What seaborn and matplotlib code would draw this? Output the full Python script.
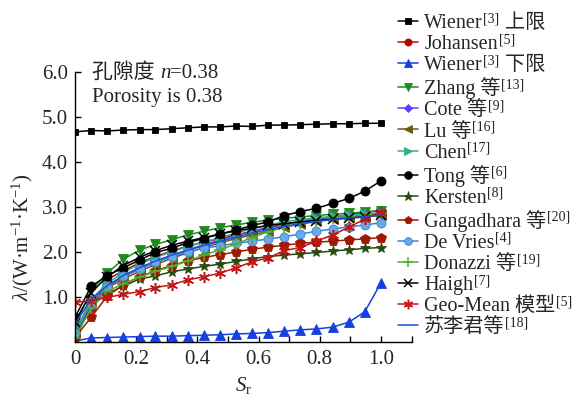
import numpy as np
import pandas as pd
import matplotlib
matplotlib.use('Agg')
import matplotlib.pyplot as plt
import seaborn as sns

# Sr grid shared by all curves
sr = [0.0, 0.053, 0.105, 0.158, 0.211, 0.263, 0.316, 0.368, 0.421, 0.474,
      0.526, 0.579, 0.632, 0.684, 0.737, 0.789, 0.842, 0.895, 0.947, 1.0]

wiener_up = [4.67, 4.70, 4.69, 4.71, 4.72, 4.72, 4.74, 4.76, 4.78, 4.78,
             4.80, 4.79, 4.82, 4.82, 4.83, 4.84, 4.85, 4.85, 4.86, 4.86]
johansen = [0.15, 0.75, 1.39, 1.58, 1.76, 1.90, 2.02, 2.13, 2.22, 2.30,
            2.38, 2.46, 2.54, 2.61, 2.68, 2.73, 2.78, 2.83, 2.88, 2.92]
wiener_low = [0.02, 0.09, 0.10, 0.11, 0.12, 0.13, 0.13, 0.14, 0.15, 0.16,
              0.18, 0.19, 0.21, 0.24, 0.27, 0.29, 0.33, 0.44, 0.67, 1.31]
zhang = [0.35, 1.15, 1.53, 1.84, 2.04, 2.17, 2.27, 2.38, 2.46, 2.54,
         2.60, 2.66, 2.71, 2.75, 2.78, 2.81, 2.84, 2.86, 2.89, 2.92]
cote = [0.15, 0.80, 1.20, 1.45, 1.62, 1.78, 1.92, 2.05, 2.16, 2.27,
        2.37, 2.46, 2.55, 2.62, 2.68, 2.73, 2.77, 2.81, 2.84, 2.87]
lu = [0.25, 0.90, 1.20, 1.40, 1.57, 1.72, 1.86, 1.98, 2.10, 2.20,
      2.30, 2.38, 2.46, 2.55, 2.62, 2.68, 2.73, 2.77, 2.80, 2.83]
chen = [0.20, 0.95, 1.30, 1.55, 1.73, 1.88, 2.00, 2.12, 2.22, 2.32,
        2.42, 2.52, 2.60, 2.67, 2.72, 2.76, 2.79, 2.82, 2.84, 2.86]
tong = [0.55, 1.24, 1.47, 1.65, 1.82, 1.99, 2.08, 2.21, 2.30, 2.40,
        2.49, 2.59, 2.67, 2.81, 2.90, 2.97, 3.08, 3.19, 3.35, 3.58]
kersten = [0.05, 0.85, 1.07, 1.24, 1.40, 1.47, 1.56, 1.62, 1.68, 1.73,
           1.79, 1.85, 1.90, 1.93, 1.96, 1.99, 2.02, 2.05, 2.08, 2.10]
gangadhara = [0.10, 0.55, 1.02, 1.27, 1.45, 1.58, 1.70, 1.80, 1.88, 1.94,
              2.00, 2.06, 2.11, 2.15, 2.19, 2.22, 2.24, 2.27, 2.29, 2.32]
devries = [0.20, 0.85, 1.23, 1.47, 1.62, 1.77, 1.90, 2.01, 2.08, 2.14,
           2.19, 2.24, 2.29, 2.34, 2.40, 2.46, 2.51, 2.56, 2.60, 2.65]
donazzi = [0.10, 0.75, 1.12, 1.30, 1.44, 1.57, 1.68, 1.80, 1.93, 2.05,
           2.18, 2.32, 2.45, 2.55, 2.64, 2.70, 2.75, 2.79, 2.82, 2.85]
haigh = [0.45, 1.10, 1.45, 1.70, 1.88, 2.03, 2.15, 2.24, 2.32, 2.40,
         2.47, 2.53, 2.59, 2.63, 2.67, 2.70, 2.73, 2.75, 2.78, 2.82]
geomean = [0.88, 0.92, 0.99, 1.06, 1.12, 1.21, 1.27, 1.38, 1.45, 1.53,
           1.65, 1.78, 1.87, 2.03, 2.10, 2.24, 2.38, 2.55, 2.73, 2.90]
su = [0.40, 0.95, 1.25, 1.48, 1.65, 1.80, 1.93, 2.04, 2.14, 2.24,
      2.33, 2.42, 2.50, 2.57, 2.63, 2.68, 2.72, 2.76, 2.79, 2.82]

series = [wiener_up, johansen, wiener_low, zhang, cote, lu, chen, tong,
          kersten, gangadhara, devries, donazzi, haigh, geomean, su]

# legend labels split into (text, kind) pieces; 's' = superscript
label_parts = [
    [('Wiener', 't'), ('[3]', 's'), (' 上限', 't')],
    [('Johansen', 't'), ('[5]', 's')],
    [('Wiener', 't'), ('[3]', 's'), (' 下限', 't')],
    [('Zhang 等', 't'), ('[13]', 's')],
    [('Cote 等', 't'), ('[9]', 's')],
    [('Lu 等', 't'), ('[16]', 's')],
    [('Chen', 't'), ('[17]', 's')],
    [('Tong 等', 't'), ('[6]', 's')],
    [('Kersten', 't'), ('[8]', 's')],
    [('Gangadhara 等', 't'), ('[20]', 's')],
    [('De Vries', 't'), ('[4]', 's')],
    [('Donazzi 等', 't'), ('[19]', 's')],
    [('Haigh', 't'), ('[7]', 's')],
    [('Geo-Mean 模型', 't'), ('[5]', 's')],
    [('苏李君等', 't'), ('[18]', 's')],
]

colors = ['black', '#c00000', '#1540e0', '#1f8a1f', '#6040ff', '#6b5a10',
          '#30b090', 'black', '#2b4a12', '#a01800', '#3c82d8', '#4caf30',
          'black', '#c01818', '#1a4fd8']
markers = ['s', 'o', '^', 'v', 'D', '<', '>', 'o', '*', 'p', 'o', '+',
           'x', (6, 2, 0), None]
msizes = [5, 6, 7, 7, 5, 7, 7, 6.5, 8, 7, 6.5, 8, 7, 8, 0]

sns.set_style('ticks')
fam = ['Liberation Serif', 'Noto Sans CJK SC']
plt.rcParams['font.family'] = fam
plt.rcParams['mathtext.fontset'] = 'custom'
plt.rcParams['mathtext.rm'] = 'Liberation Serif'
plt.rcParams['mathtext.it'] = 'Liberation Serif:italic'

fig = plt.figure(figsize=(5.77, 3.99), dpi=100)
ax = fig.add_axes([75 / 577, 1 - 342 / 399, 336.5 / 577, 270 / 399])

for vals, c, m, ms, parts in zip(series, colors, markers, msizes, label_parts):
    kw = dict(color=c, linewidth=1.1)
    if m is not None:
        kw.update(marker=m, markersize=ms, markeredgecolor=c,
                  markeredgewidth=1.1 if m in ('+', 'x', (6, 2, 0)) else 0.6)
    if c == '#3c82d8':
        kw['markerfacecolor'] = '#6aa8ec'
    sns.lineplot(x=sr, y=vals, ax=ax, label=parts[0][0], **kw)

ax.set_xlim(0, 1.1)
ax.set_ylim(0, 6)
ax.set_xticks([0, 0.2, 0.4, 0.6, 0.8, 1.0])
ax.set_xticklabels(['0', '0.2', '0.4', '0.6', '0.8', '1.0'])
ax.set_xticks([0.1, 0.3, 0.5, 0.7, 0.9, 1.1], minor=True)
ax.set_yticks([1, 2, 3, 4, 5, 6])
ax.set_yticklabels(['1.0', '2.0', '3.0', '4.0', '5.0', '6.0'])
ax.tick_params(which='both', direction='in', length=4, width=1, color='black')
ax.tick_params(axis='x', which='major', pad=6, labelsize=15)
ax.tick_params(axis='y', pad=5, labelsize=15)
for s in ['top', 'right']:
    ax.spines[s].set_visible(False)
for s in ['left', 'bottom']:
    ax.spines[s].set_linewidth(1)
    ax.spines[s].set_color('black')

ax.set_xlabel(r'$S_{\mathrm{r}}$', fontsize=15, labelpad=4)
ax.set_ylabel(r'$\lambda$/(W·m$^{-1}$·K$^{-1}$)', fontsize=15)
ax.yaxis.set_label_coords(-0.12, 0.39)

handles = ax.lines[:len(series)]
leg = ax.legend(handles, [p[0][0] for p in label_parts], loc='upper left',
                bbox_to_anchor=(398 / 577, 1 - 14 / 399),
                bbox_transform=fig.transFigure, frameon=False, borderpad=0,
                borderaxespad=0, handlelength=1.0, handletextpad=0.3,
                labelspacing=0.1, markerscale=0.85,
                prop={'family': fam, 'size': 14.5})


def chain(base, pieces, size):
    prev = base
    for s, kind in pieces:
        if kind == 's':
            t = ax.annotate(s, xy=(1, 0), xycoords=(prev, base),
                            xytext=(0.5, 5.6), textcoords='offset points',
                            va='bottom', ha='left', fontsize=size * 0.69,
                            family=fam, zorder=6)
        else:
            t = ax.annotate(s, xy=(1, 0), xycoords=(prev, base),
                            va='bottom', ha='left', fontsize=size,
                            family=fam, zorder=6)
        prev = t


for txt, parts in zip(leg.get_texts(), label_parts):
    chain(txt, parts[1:], 14.5)

# porosity note
t1 = ax.annotate('孔隙度 ', xy=(92 / 577, 1 - 78 / 399), xycoords='figure fraction',
                 va='baseline', ha='left', fontsize=15, family=fam, color='#222222')
t2 = ax.annotate('n', xy=(1, 0), xycoords=(t1, t1), va='bottom', ha='left',
                 fontsize=15, family='Liberation Serif', style='italic')
ax.annotate('=0.38', xy=(1, 0), xycoords=(t2, t1), va='bottom', ha='left',
            fontsize=15, family=fam)
ax.annotate('Porosity is 0.38', xy=(92 / 577, 1 - 102 / 399),
            xycoords='figure fraction', va='baseline', ha='left',
            fontsize=15, family=fam)

fig.savefig('out.png', dpi=100)
